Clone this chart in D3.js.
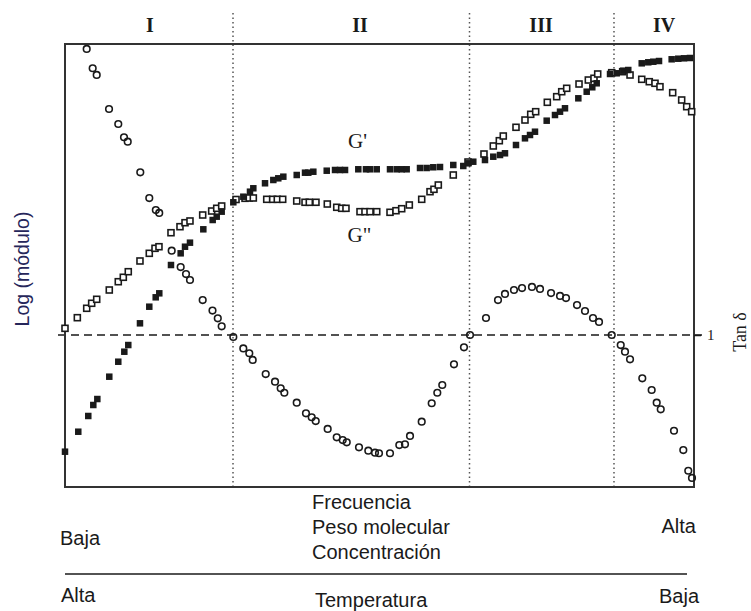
<!DOCTYPE html>
<html>
<head>
<meta charset="utf-8">
<script src="https://cdn.jsdelivr.net/npm/d3@7"></script>
<style>
  body { margin: 0; background: #fff; }
  svg { display: block; }
</style>
</head>
<body>
<svg id="chart"></svg>
<script>
// log frequency (0..10) -> log modulus (0..10)
var gpX = [0.000, 0.211, 0.370, 0.450, 0.514, 0.704, 0.847, 0.943, 1.006, 1.192, 1.340, 1.442, 1.499, 1.685, 1.839, 1.908, 1.987, 2.199, 2.348, 2.412, 2.491, 2.676, 2.835, 2.941, 2.994, 3.180, 3.312, 3.391, 3.471, 3.684, 3.816, 3.868, 3.948, 4.161, 4.293, 4.372, 4.452, 4.663, 4.785, 4.849, 4.956, 5.167, 5.274, 5.353, 5.432, 5.644, 5.750, 5.855, 5.962, 6.173, 6.332, 6.412, 6.491, 6.677, 6.809, 6.916, 6.995, 7.170, 7.313, 7.393, 7.472, 7.658, 7.790, 7.870, 7.949, 8.161, 8.294, 8.383, 8.453, 8.665, 8.771, 8.876, 8.955, 9.169, 9.273, 9.353, 9.444, 9.645, 9.750, 9.841, 9.936];
var gpY = [0.797, 1.248, 1.603, 1.851, 1.986, 2.490, 2.828, 3.054, 3.205, 3.695, 4.070, 4.282, 4.372, 5.011, 5.275, 5.424, 5.515, 5.817, 6.027, 6.102, 6.215, 6.427, 6.553, 6.666, 6.743, 6.856, 6.930, 6.968, 7.005, 7.043, 7.095, 7.095, 7.117, 7.140, 7.156, 7.156, 7.156, 7.172, 7.172, 7.172, 7.172, 7.172, 7.172, 7.172, 7.172, 7.201, 7.201, 7.217, 7.223, 7.269, 7.246, 7.307, 7.343, 7.381, 7.456, 7.494, 7.533, 7.720, 7.871, 7.946, 8.020, 8.269, 8.397, 8.472, 8.549, 8.774, 8.923, 9.023, 9.113, 9.323, 9.339, 9.397, 9.413, 9.564, 9.587, 9.600, 9.616, 9.655, 9.668, 9.677, 9.684];

var gppX = [0.000, 0.196, 0.345, 0.424, 0.504, 0.704, 0.847, 0.927, 1.006, 1.192, 1.340, 1.431, 1.494, 1.685, 1.828, 1.908, 1.987, 2.189, 2.332, 2.412, 2.491, 2.719, 2.862, 2.930, 2.994, 3.207, 3.302, 3.375, 3.461, 3.684, 3.816, 3.884, 3.990, 4.170, 4.320, 4.399, 4.467, 4.690, 4.769, 4.849, 4.956, 5.167, 5.262, 5.353, 5.474, 5.671, 5.803, 5.866, 5.935, 6.173, 6.407, 6.661, 6.809, 6.905, 6.968, 7.170, 7.313, 7.404, 7.483, 7.668, 7.817, 7.897, 7.976, 8.172, 8.320, 8.410, 8.469, 8.692, 8.866, 8.983, 9.169, 9.289, 9.380, 9.459, 9.661, 9.804, 9.884, 9.963];
var gppY = [3.582, 3.822, 4.034, 4.147, 4.237, 4.447, 4.634, 4.734, 4.860, 5.102, 5.275, 5.388, 5.424, 5.740, 5.876, 5.966, 6.005, 6.140, 6.230, 6.291, 6.343, 6.490, 6.517, 6.524, 6.524, 6.494, 6.494, 6.494, 6.494, 6.456, 6.427, 6.427, 6.427, 6.388, 6.314, 6.291, 6.291, 6.215, 6.215, 6.215, 6.215, 6.201, 6.237, 6.282, 6.366, 6.494, 6.666, 6.720, 6.817, 7.043, 7.336, 7.517, 7.698, 7.817, 7.923, 8.120, 8.284, 8.413, 8.472, 8.684, 8.811, 8.923, 9.000, 9.097, 9.187, 9.226, 9.323, 9.352, 9.375, 9.300, 9.203, 9.149, 9.113, 9.036, 8.901, 8.736, 8.585, 8.472];

// log tan delta (0 = tan delta of 1)
var tanX = [0.345, 0.440, 0.504, 0.700, 0.847, 0.938, 0.997, 1.197, 1.340, 1.444, 1.498, 1.696, 1.839, 1.924, 1.987, 2.189, 2.345, 2.429, 2.491, 2.676, 2.835, 2.930, 2.984, 3.191, 3.339, 3.429, 3.487, 3.684, 3.831, 3.922, 3.986, 4.176, 4.320, 4.415, 4.479, 4.674, 4.822, 4.928, 4.992, 5.167, 5.315, 5.405, 5.485, 5.671, 5.830, 5.919, 5.998, 6.184, 6.343, 6.439, 6.693, 6.884, 6.995, 7.138, 7.266, 7.424, 7.552, 7.727, 7.870, 7.965, 8.140, 8.267, 8.394, 8.490, 8.692, 8.835, 8.903, 8.983, 9.178, 9.327, 9.407, 9.471, 9.682, 9.830, 9.909, 9.968];
var tanY = [1.882, 1.755, 1.711, 1.487, 1.388, 1.301, 1.272, 1.070, 0.901, 0.822, 0.803, 0.555, 0.447, 0.401, 0.362, 0.230, 0.161, 0.110, 0.057, -0.013, -0.088, -0.120, -0.164, -0.257, -0.307, -0.351, -0.380, -0.445, -0.515, -0.541, -0.566, -0.618, -0.673, -0.691, -0.706, -0.739, -0.761, -0.774, -0.778, -0.778, -0.724, -0.719, -0.664, -0.570, -0.449, -0.380, -0.329, -0.193, -0.081, 0.000, 0.112, 0.230, 0.270, 0.296, 0.309, 0.316, 0.303, 0.276, 0.257, 0.243, 0.197, 0.158, 0.112, 0.086, 0.000, -0.066, -0.110, -0.160, -0.285, -0.362, -0.445, -0.489, -0.630, -0.757, -0.893, -0.940];

var zoneBounds = [2.671, 6.431, 8.728];
var zoneNames = ['I', 'II', 'III', 'IV'];
var zoneLabelX = [1.351, 4.690, 7.568, 9.523];

var axisTopLines = ['Frecuencia', 'Peso molecular', 'Concentración'];
var axisBottomLine = 'Temperatura';

var W = 751, H = 611;
var svg = d3.select('#chart').attr('width', W).attr('height', H);

var x = d3.scaleLinear().domain([0, 10]).range([65, 694]);
var y = d3.scaleLinear().domain([0, 10]).range([487, 44]);
var yTan = d3.scaleLinear().domain([-1, 2]).range([487, 31]);

var ink = '#1a1a1a';

// zone separators
svg.selectAll('.zone').data(zoneBounds).enter().append('line')
    .attr('x1', d => x(d)).attr('x2', d => x(d))
    .attr('y1', 13).attr('y2', 487)
    .attr('stroke', '#555').attr('stroke-width', 1.5)
    .attr('stroke-dasharray', '1.5,3');

svg.selectAll('.zlabel').data(zoneNames).enter().append('text')
    .attr('x', (d, i) => x(zoneLabelX[i]))
    .attr('y', 32)
    .attr('text-anchor', 'middle')
    .attr('font-family', 'Liberation Serif, serif')
    .attr('font-size', 20)
    .attr('font-weight', 'bold')
    .attr('fill', ink)
    .text(d => d);

// tan delta = 1 line
svg.append('line')
    .attr('x1', 58).attr('x2', 702)
    .attr('y1', yTan(0)).attr('y2', yTan(0))
    .attr('stroke', ink).attr('stroke-width', 1.6)
    .attr('stroke-dasharray', '8,5');

// frame
svg.append('rect')
    .attr('x', x(0)).attr('y', y(10))
    .attr('width', x(10) - x(0)).attr('height', y(0) - y(10))
    .attr('fill', 'none').attr('stroke', '#333').attr('stroke-width', 2);

// right axis (tan delta)
var rightAxis = d3.axisRight(yTan).tickValues([0]).tickFormat(() => '1').tickSize(7).tickPadding(6);
var ra = svg.append('g').attr('transform', 'translate(' + x(10) + ',0)').call(rightAxis);
ra.select('.domain').remove();
ra.selectAll('line').attr('stroke', ink).attr('stroke-width', 1.5);
ra.selectAll('text').attr('font-family', 'Liberation Serif, serif').attr('font-size', 15).attr('fill', ink);

// G'' open squares
var s = 6;
svg.append('g').selectAll('rect').data(gppX).enter().append('rect')
    .attr('x', (d, i) => x(d) - s / 2)
    .attr('y', (d, i) => y(gppY[i]) - s / 2)
    .attr('width', s).attr('height', s)
    .attr('fill', '#fff').attr('stroke', ink).attr('stroke-width', 1.6);

// G' filled squares
var f = 6.5;
svg.append('g').selectAll('rect').data(gpX).enter().append('rect')
    .attr('x', (d, i) => x(d) - f / 2)
    .attr('y', (d, i) => y(gpY[i]) - f / 2)
    .attr('width', f).attr('height', f)
    .attr('fill', ink);

// tan delta open circles
svg.append('g').selectAll('circle').data(tanX).enter().append('circle')
    .attr('cx', d => x(d))
    .attr('cy', (d, i) => yTan(tanY[i]))
    .attr('r', 3.3)
    .attr('fill', 'none').attr('stroke', ink).attr('stroke-width', 1.6);

// series labels
svg.append('text').attr('x', x(4.65)).attr('y', y(7.65))
    .attr('text-anchor', 'middle')
    .attr('font-family', 'Liberation Serif, serif').attr('font-size', 21)
    .attr('fill', ink).text("G'");
svg.append('text').attr('x', x(4.68)).attr('y', y(5.53))
    .attr('text-anchor', 'middle')
    .attr('font-family', 'Liberation Serif, serif').attr('font-size', 21)
    .attr('fill', ink).text('G"');

// axis titles
svg.append('text')
    .attr('transform', 'translate(29,' + 269 + ') rotate(-90)')
    .attr('text-anchor', 'middle')
    .attr('font-family', 'Liberation Sans, Arial, sans-serif').attr('font-size', 19.5)
    .attr('fill', '#26265a').text('Log (módulo)');

svg.append('text')
    .attr('transform', 'translate(746,' + 332 + ') rotate(-90)')
    .attr('text-anchor', 'middle')
    .attr('font-family', 'Liberation Serif, serif').attr('font-size', 18)
    .attr('fill', ink).text('Tan δ');

// bottom scale description
var sans = 'Liberation Sans, Arial, sans-serif';
var fs = 20;
svg.append('g').selectAll('text').data(axisTopLines).enter().append('text')
    .attr('x', 312).attr('y', (d, i) => 509 + i * 25)
    .attr('font-family', sans).attr('font-size', fs).attr('fill', ink)
    .text(d => d);

svg.append('text').attr('x', 60).attr('y', 545)
    .attr('font-family', sans).attr('font-size', fs).attr('fill', ink).text('Baja');
svg.append('text').attr('x', 696).attr('y', 533).attr('text-anchor', 'end')
    .attr('font-family', sans).attr('font-size', fs).attr('fill', ink).text('Alta');

svg.append('line').attr('x1', 65).attr('x2', 687).attr('y1', 574).attr('y2', 574)
    .attr('stroke', ink).attr('stroke-width', 1.5);

svg.append('text').attr('x', 61).attr('y', 602)
    .attr('font-family', sans).attr('font-size', fs).attr('fill', ink).text('Alta');
svg.append('text').attr('x', 315).attr('y', 607)
    .attr('font-family', sans).attr('font-size', fs).attr('fill', ink).text(axisBottomLine);
svg.append('text').attr('x', 699).attr('y', 603).attr('text-anchor', 'end')
    .attr('font-family', sans).attr('font-size', fs).attr('fill', ink).text('Baja');
</script>
</body>
</html>
